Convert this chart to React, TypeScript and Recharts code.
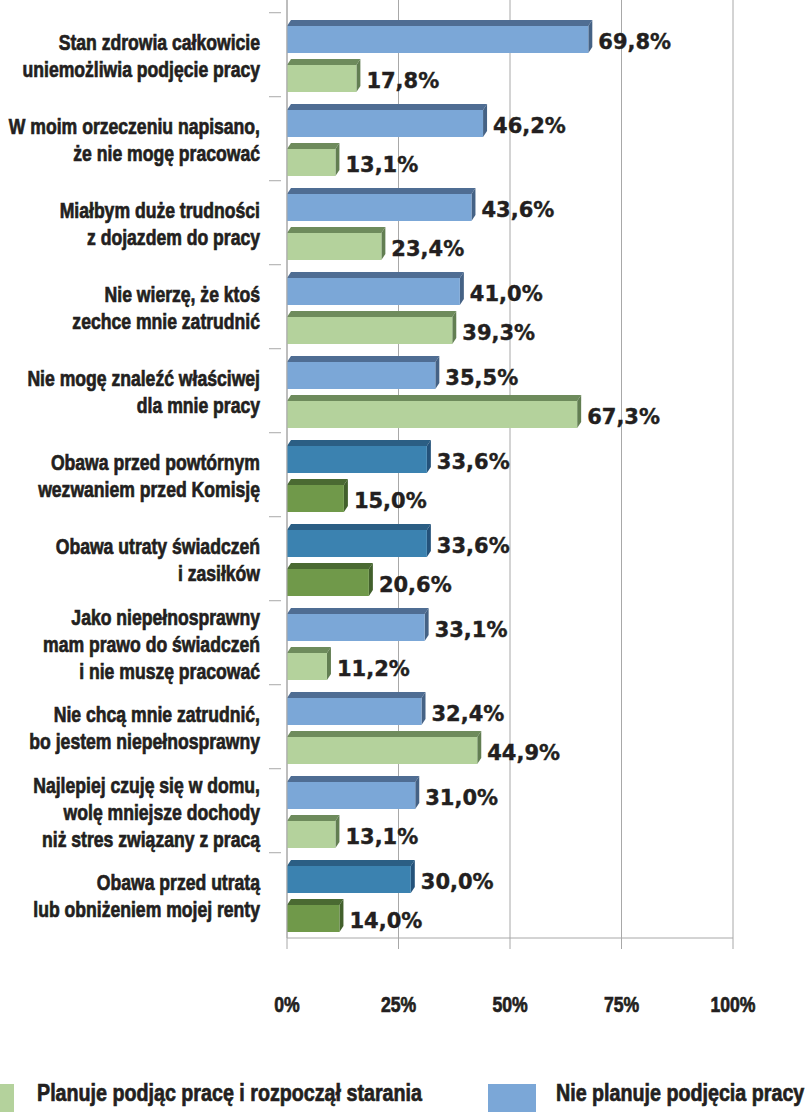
import React from "react";
import {
	BarChart,
	Bar,
	XAxis,
	YAxis,
	CartesianGrid,
	Legend,
	LabelList,
} from "recharts";

const categories = [
	"Stan zdrowia całkowicie\nuniemożliwia podjęcie pracy",
	"W moim orzeczeniu napisano,\nże nie mogę pracować",
	"Miałbym duże trudności\nz dojazdem do pracy",
	"Nie wierzę, że ktoś\nzechce mnie zatrudnić",
	"Nie mogę znaleźć właściwej\ndla mnie pracy",
	"Obawa przed powtórnym\nwezwaniem przed Komisję",
	"Obawa utraty świadczeń\ni zasiłków",
	"Jako niepełnosprawny\nmam prawo do świadczeń\ni nie muszę pracować",
	"Nie chcą mnie zatrudnić,\nbo jestem niepełnosprawny",
	"Najlepiej czuję się w domu,\nwolę mniejsze dochody\nniż stres związany z pracą",
	"Obawa przed utratą\nlub obniżeniem mojej renty",
];

// "Nie planuje podjęcia pracy"
const notPlanning = [69.8, 46.2, 43.6, 41.0, 35.5, 33.6, 33.6, 33.1, 32.4, 31.0, 30.0];
// "Planuje podjąc pracę i rozpoczął starania"
const planning = [17.8, 13.1, 23.4, 39.3, 67.3, 15.0, 20.6, 11.2, 44.9, 13.1, 14.0];
// rows drawn in the darker shade
const highlighted = [false, false, false, false, false, true, true, false, false, false, true];

const xTicks = [0, 25, 50, 75, 100];

const data = categories.map((name, i) => ({
	name,
	notPlanning: notPlanning[i],
	planning: planning[i],
	dark: highlighted[i],
}));

// no condensed font installed, so Liberation Sans bold squeezed horizontally
const SANS = '"Liberation Sans", Arial, sans-serif';
const SQUEEZE = 0.8;
const TEXT = "#231f20";
const GRID = "#a8a8a8";

const palette: Record<string, { front: string; top: string; side: string; darkFront: string; darkTop: string; darkSide: string }> = {
	blue: {
		front: "#7ba7d7",
		top: "#4f6d93",
		side: "#456285",
		darkFront: "#3b82b0",
		darkTop: "#2b5e84",
		darkSide: "#24527a",
	},
	green: {
		front: "#b4d29c",
		top: "#6e8b5c",
		side: "#627e52",
		darkFront: "#70994a",
		darkTop: "#4a6a32",
		darkSide: "#42602c",
	},
};

const DX = 4; // depth offset, x
const DY = 6; // depth offset, y
const SHORTEN = 10;

function Bar3D(props: any) {
	const { x, y, width, height, payload, series } = props;
	const c = palette[series];
	const dark = payload && payload.dark;
	const w = Math.max(width - SHORTEN, 2);
	const front = dark ? c.darkFront : c.front;
	const top = dark ? c.darkTop : c.top;
	const side = dark ? c.darkSide : c.side;
	return (
		<g>
			<polygon
				points={`${x},${y + DY} ${x + DX},${y} ${x + w + DX},${y} ${x + w},${y + DY}`}
				fill={top}
			/>
			<polygon
				points={`${x + w},${y + DY} ${x + w + DX},${y} ${x + w + DX},${y + height - DY} ${x + w},${y + height}`}
				fill={side}
			/>
			<rect x={x} y={y + DY} width={w} height={height - DY} fill={front} />
		</g>
	);
}

function ValueLabel(props: any) {
	const { x, y, width, height, value } = props;
	const txt = `${Number(value).toFixed(1).replace(".", ",")}%`;
	return (
		<text
			x={x + width}
			y={y + DY + (height - DY) / 2 + 2}
			fontFamily="DejaVu Sans, sans-serif"
			fontWeight="bold"
			fontSize={21}
			fill={TEXT}
			stroke={TEXT}
			strokeWidth={0.4}
			dominantBaseline="central"
		>
			{txt}
		</text>
	);
}

const PLOT_TOP = 14;
const PLOT_BOTTOM = 966;
const BAND = (PLOT_BOTTOM - PLOT_TOP) / categories.length;

function CategoryTick(props: any) {
	const { x, y, payload } = props;
	const lines = String(payload.value).split("\n");
	const lh = 27;
	const start = -((lines.length - 1) / 2) * lh;
	return (
		<g>
			<line x1={x - 10} x2={x + 2} y1={y - BAND / 2} y2={y - BAND / 2} stroke={GRID} />
			<g transform={`translate(${x - 19},${y}) scale(${SQUEEZE},1)`}>
				<text
					x={0}
					y={0}
					textAnchor="end"
					fontFamily={SANS}
					fontWeight="bold"
					fontSize={22}
					fill={TEXT}
					stroke={TEXT}
					strokeWidth={0.7}
					dominantBaseline="central"
				>
					{lines.map((l, i) => (
						<tspan key={i} x={0} dy={i === 0 ? start : lh}>
							{l}
						</tspan>
					))}
				</text>
			</g>
		</g>
	);
}

function PercentTick(props: any) {
	const { x, y, payload } = props;
	return (
		<g transform={`translate(${x},${y + 35}) scale(${SQUEEZE},1)`}>
			<text
				x={0}
				y={0}
				textAnchor="middle"
				fontFamily={SANS}
				fontWeight="bold"
				fontSize={22}
				fill={TEXT}
				stroke={TEXT}
				strokeWidth={0.7}
				dominantBaseline="central"
			>
				{`${payload.value}%`}
			</text>
		</g>
	);
}

function LegendBox() {
	const items = [
		{ label: "Planuje podjąc pracę i rozpoczął starania", color: "#b4d29c", left: -34, textLeft: 37 },
		{ label: "Nie planuje podjęcia pracy", color: "#7ba7d7", left: 488, textLeft: 556 },
	];
	return (
		<div style={{ position: "relative", width: 807, height: 28 }}>
			{items.map((it) => (
				<React.Fragment key={it.label}>
					<div
						style={{
							position: "absolute",
							left: it.left,
							top: 0,
							width: 48,
							height: 30,
							background: it.color,
						}}
					/>
					<div
						style={{
							position: "absolute",
							left: it.textLeft,
							top: -6,
							fontFamily: SANS,
							fontWeight: "bold",
							fontSize: 24,
							lineHeight: "30px",
							color: TEXT,
							whiteSpace: "nowrap",
							WebkitTextStroke: `0.7px ${TEXT}`,
							transform: "scaleX(0.82)",
							transformOrigin: "left center",
						}}
					>
						{it.label}
					</div>
				</React.Fragment>
			))}
		</div>
	);
}

export default function App() {
	return (
		<div style={{ position: "absolute", left: 0, top: 0, width: 807, height: 1112, overflow: "hidden", background: "#fff" }}>
			<BarChart
				width={807}
				height={1112}
				data={data}
				layout="vertical"
				margin={{ top: 0, right: 74, left: 0, bottom: 96 }}
				barSize={33}
				barGap={6}
			>
				<CartesianGrid horizontal={false} stroke={GRID} />
				<XAxis
					type="number"
					domain={[0, 100]}
					ticks={xTicks}
					height={50}
					axisLine={{ stroke: GRID }}
					tickLine={{ stroke: GRID }}
					tickSize={11}
					tickMargin={20}
					tick={<PercentTick />}
				/>
				<YAxis
					type="category"
					dataKey="name"
					width={287}
					padding={{ top: PLOT_TOP, bottom: 0 }}
					axisLine={{ stroke: GRID }}
					tickLine={false}
					interval={0}
					tick={<CategoryTick />}
				/>
				<Legend
					content={() => <LegendBox />}
					wrapperStyle={{ position: "absolute", left: 0, top: 1084, width: 807, height: 28 }}
				/>
				<Bar
					dataKey="notPlanning"
					name="Nie planuje podjęcia pracy"
					fill="#7ba7d7"
					isAnimationActive={false}
					shape={(p: any) => <Bar3D {...p} series="blue" />}
				>
					<LabelList dataKey="notPlanning" content={<ValueLabel />} />
				</Bar>
				<Bar
					dataKey="planning"
					name="Planuje podjąc pracę i rozpoczął starania"
					fill="#b4d29c"
					isAnimationActive={false}
					shape={(p: any) => <Bar3D {...p} series="green" />}
				>
					<LabelList dataKey="planning" content={<ValueLabel />} />
				</Bar>
			</BarChart>
		</div>
	);
}
